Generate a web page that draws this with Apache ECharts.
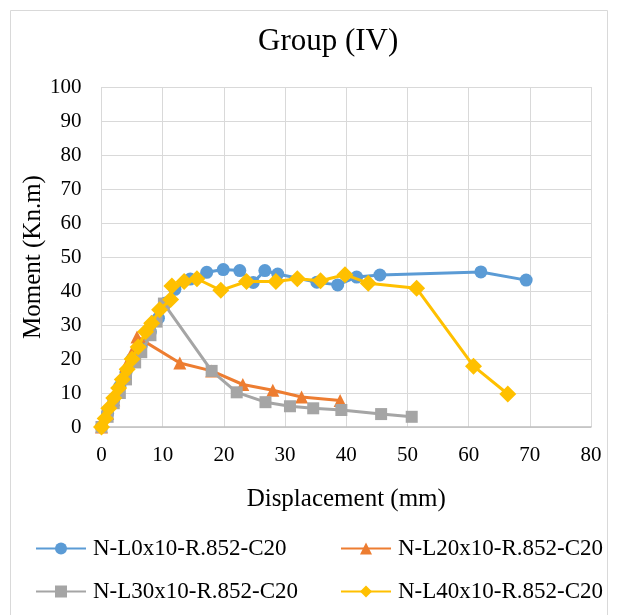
<!DOCTYPE html>
<html>
<head>
<meta charset="utf-8">
<script src="https://cdn.jsdelivr.net/npm/echarts@6/dist/echarts.min.js"></script>
<style>
html,body{margin:0;padding:0;background:#fff;}
#chart{width:619px;height:615px;}
</style>
</head>
<body>
<div id="chart"></div>
<script>
const titleText = 'Group (IV)';
const xAxisName = 'Displacement (mm)';
const yAxisName = 'Moment (Kn.m)';
const seriesNames = ['N-L0x10-R.852-C20','N-L20x10-R.852-C20','N-L30x10-R.852-C20','N-L40x10-R.852-C20'];

const s1 = [[0,0],[1,4],[2,8],[3,12],[4,16],[5,20],[6.5,24],[8,28],[9.3,32],[10.5,36.5],[12,40.5],[14.5,43.5],[17.2,45.5],[19.9,46.3],[22.6,46],[24.8,42.5],[26.7,46],[28.8,45],[35.2,42.6],[38.6,41.8],[41.7,44.1],[45.5,44.7],[62,45.6],[69.4,43.2]];
const s2 = [[0,0],[1,4],[2,8],[3,13],[4,18],[5,22],[5.8,26.5],[12.8,18.8],[18,16.5],[23.1,12.5],[28,10.8],[32.7,8.8],[39,7.8]];
const s3 = [[0,0],[1,3],[2,7],[3,10],[4,14],[5.5,19],[6.5,22],[8,27],[9,31],[10.2,36.3],[18,16.5],[22.1,10.2],[26.8,7.3],[30.8,6.1],[34.6,5.5],[39.2,5],[45.7,3.8],[50.7,3.0]];
const s4 = [[0,0],[0.6,2.5],[1.2,5.5],[2,8.5],[2.8,11.5],[3.4,14],[4.2,17],[5,20],[6,23.5],[7.2,28],[8.2,30.5],[9.5,34.5],[11.3,37.5],[11.5,41.5],[13.5,42.8],[15.6,43.6],[19.5,40.2],[23.7,42.8],[28.5,42.8],[32,43.6],[35.8,43],[39.8,44.8],[43.6,42.3],[51.5,40.8],[60.8,17.9],[66.4,9.7]];

const seriesData = [s1,s2,s3,s4];
const colors = ['#5B9BD5','#ED7D31','#A5A5A5','#FFC000'];
const symbols = ['circle','triangle','rect','diamond'];
const symbolSizes = [13,13,12,17];

const font = '"Liberation Serif","Times New Roman",serif';
const chart = echarts.init(document.getElementById('chart'));

const legendPos = [[35,537],[340,537],[35,580],[340,580]];

chart.setOption({
  animation:false,
  backgroundColor:'#fff',
  graphic:[{type:'rect',shape:{x:10.5,y:10.5,width:597,height:620},style:{fill:'none',stroke:'#D9D9D9',lineWidth:1},silent:true}],
  title:{text:titleText,left:253,top:21,textStyle:{fontFamily:font,fontWeight:'normal',fontSize:31,color:'#000'}},
  grid:{left:101.5,right:28,top:87,bottom:188},
  legend: seriesNames.map((n,i)=>({
    data:[n], left:legendPos[i][0], top:legendPos[i][1], padding:0, itemWidth:50, itemHeight:15, itemGap:0,
    textStyle:{fontFamily:font,fontSize:23,color:'#000',padding:[0,0,0,2]}
  })),
  xAxis:{type:'value',min:0,max:80,interval:10,
    name:xAxisName,nameLocation:'middle',nameGap:60,
    nameTextStyle:{fontFamily:font,fontSize:25,color:'#000'},
    axisLine:{show:true,lineStyle:{color:'#BFBFBF',width:1.5}},
    axisTick:{show:false},
    axisLabel:{fontFamily:font,fontSize:21,color:'#000',margin:18},
    splitLine:{show:true,lineStyle:{color:'#D9D9D9',width:1}}},
  yAxis:{type:'value',min:0,max:100,interval:10,
    name:yAxisName,nameLocation:'middle',nameGap:56,nameRotate:90,nameMoveOverlap:false,
    nameTextStyle:{fontFamily:font,fontSize:25,color:'#000'},
    axisLine:{show:false},
    axisTick:{show:false},
    axisLabel:{fontFamily:font,fontSize:21,color:'#000',margin:20},
    splitLine:{show:true,lineStyle:{color:'#D9D9D9',width:1}}},
  series: seriesNames.map((n,i)=>({
    name:n,type:'line',data:seriesData[i],
    symbol:symbols[i],symbolSize:symbolSizes[i],showSymbol:true,
    lineStyle:{color:colors[i],width:3},
    itemStyle:{color:colors[i],borderWidth:0},
    z: 2+i
  }))
});
</script>
</body>
</html>
